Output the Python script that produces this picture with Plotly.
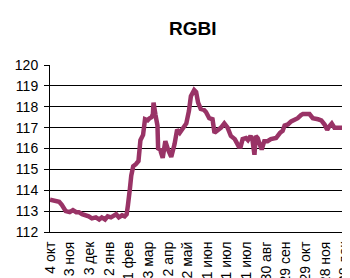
import plotly.graph_objects as go
import pandas as pd

start_date = "2021-10-04"
day_offsets = [0, 8, 14, 18, 21, 24, 30, 35, 40, 44, 49, 55, 59, 64, 70, 75, 79, 84, 88, 93,
               96, 101, 105, 110, 114, 117, 119, 120, 122, 124, 127, 131, 135, 138, 142, 145,
               149, 152, 155, 157, 158, 161, 164, 165, 168, 172, 176, 180, 185, 190, 194, 198,
               203, 208, 212, 215, 220, 223, 226, 230, 235, 238, 243, 248, 251, 256, 261, 266,
               271, 276, 282, 288, 291, 294, 299, 302, 306, 309, 312, 314, 317, 320, 323, 327,
               332, 337, 345, 351, 355, 358, 363, 368, 373, 378, 383, 386, 396, 401, 409, 414,
               419, 423, 426, 430, 434, 470]
rgbi = [113.55, 113.5, 113.45, 113.3, 113.1, 113.0, 112.95, 113.05, 112.95, 112.95, 112.85,
        112.8, 112.75, 112.65, 112.7, 112.6, 112.7, 112.6, 112.75, 112.7, 112.75, 112.85, 112.7,
        112.8, 112.75, 112.85, 113.3, 113.8, 114.1, 114.7, 115.15, 115.25, 115.4, 116.4, 116.65,
        117.4, 117.35, 117.45, 117.5, 117.65, 118.2, 117.6, 117.1, 116.0, 115.95, 115.55, 116.35,
        115.95, 115.6, 116.2, 116.9, 116.75, 117.0, 117.2, 117.8, 118.5, 118.8, 118.7, 118.2,
        117.9, 117.85, 117.75, 117.45, 117.4, 116.75, 116.85, 117.0, 117.2, 117.0, 116.6, 116.45,
        116.1, 116.1, 116.45, 116.5, 116.4, 116.6, 116.4, 115.7, 116.6, 116.5, 116.2, 115.95,
        116.35, 116.35, 116.45, 116.5, 116.75, 116.85, 117.1, 117.15, 117.3, 117.35, 117.45,
        117.6, 117.65, 117.65, 117.45, 117.4, 117.35, 117.15, 116.9, 117.05, 117.2, 117.0, 117.0]

tick_offsets = [0, 30, 60, 90, 120, 150, 180, 210, 240, 270, 300, 330, 360, 390, 420, 450]
tick_labels = ["4 окт", "3 ноя", "3 дек", "2 янв", "1 фев", "3 мар", "2 апр", "2 май",
               "1 июн", "1 июл", "31 июл", "30 авг", "29 сен", "29 окт", "28 ноя", "28 дек"]
x_end_offset = 470

base = pd.Timestamp(start_date)
dates = [base + pd.Timedelta(days=d) for d in day_offsets]
tick_dates = [base + pd.Timedelta(days=d) for d in tick_offsets]

fig = go.Figure()
fig.add_trace(go.Scatter(x=dates, y=rgbi, mode="lines",
                         line=dict(color="#993366", width=4.5), hoverinfo="skip"))

fig.update_layout(
    width=350, height=278,
    margin=dict(l=42, r=0, t=57, b=54),
    paper_bgcolor="white", plot_bgcolor="white",
    showlegend=False,
    font=dict(family="Liberation Sans, Arial, sans-serif", size=14, color="black"),
    title=dict(text="<b>RGBI</b>", x=0.528, xref="container", xanchor="center",
               y=0.928, yref="container", yanchor="middle",
               font=dict(size=19, family="Liberation Sans, Arial, sans-serif", color="black")),
    xaxis=dict(type="date", range=[base, base + pd.Timedelta(days=x_end_offset)],
               tickmode="array", tickvals=tick_dates, ticktext=tick_labels,
               tickangle=-90, showgrid=False, showline=True, linecolor="black", linewidth=1,
               ticks="", automargin=False, zeroline=False, ticklabelstandoff=3),
    yaxis=dict(range=[112, 120], dtick=1, tick0=112, showgrid=True, gridcolor="black",
               gridwidth=1, showline=True, linecolor="black", linewidth=1,
               ticks="outside", ticklen=5, tickcolor="black", automargin=False,
               zeroline=False, ticklabelstandoff=3),
)

fig.write_html("out.html")
